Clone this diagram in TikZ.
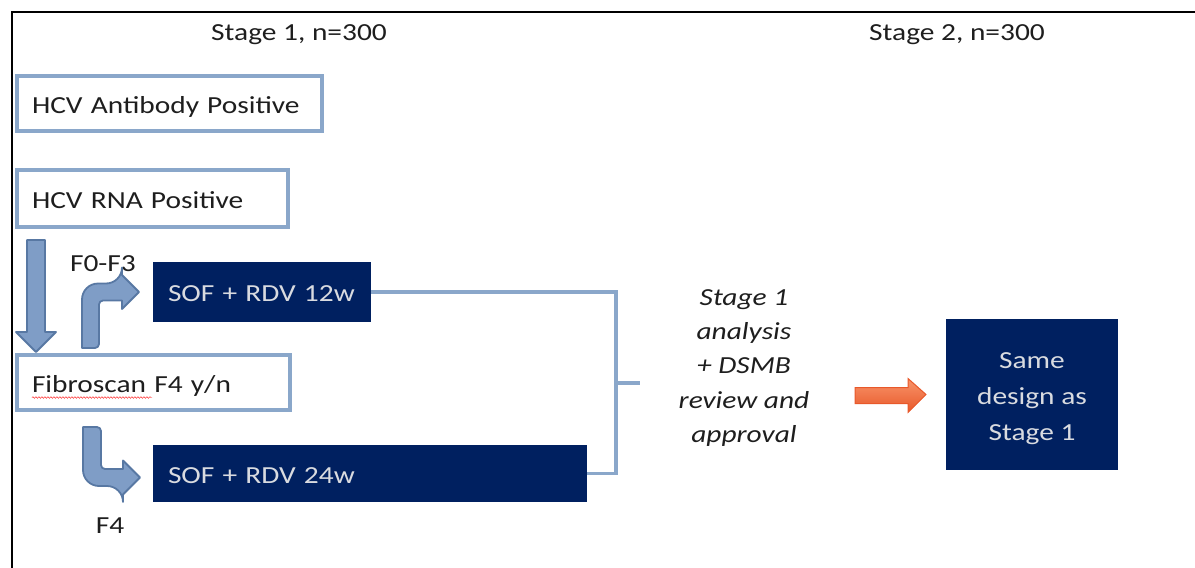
\documentclass[tikz,border=0pt]{standalone}
\usepackage{fontspec}
\setmainfont{Carlito}[FakeStretch=1.2]
\usetikzlibrary{positioning,calc,decorations.pathmorphing}
\definecolor{ink}{HTML}{1E1E1E}
\definecolor{edge}{HTML}{8AA7CA}
\definecolor{navy}{HTML}{002060}
\definecolor{pale}{HTML}{D9DBE0}
\definecolor{afill}{HTML}{7F9DC6}
\definecolor{aline}{HTML}{5878A3}
\definecolor{org}{HTML}{E8582A}
\definecolor{orgl}{HTML}{F8946A}
\tikzset{
  box/.style={draw=edge,line width=3.8pt,fill=white,outer sep=0pt,inner xsep=15pt,align=left,anchor=north west,text=ink,text height=22pt,text depth=3pt},
  dark/.style={fill=navy,outer sep=0pt,inner xsep=15pt,align=left,anchor=north west,text=pale,text height=22pt,text depth=3pt},
  lab/.style={text=ink,align=center},
  link/.style={draw=edge,line width=3.8pt},
  barrow/.style={draw=aline,fill=afill,line width=1.8pt,line join=round},
  oarrow/.style={draw=org,top color=orgl,bottom color=org,line width=1pt},
}
\begin{document}
\begin{tikzpicture}[x=1pt,y=-1pt,font=\fontsize{24.5}{29}\selectfont]
\useasboundingbox (0,0) rectangle (1195,568);
\draw[line width=1.5pt] (12,568) -- (12,12) -- (1195,12);
\node[lab] (st1) at (299,35) {Stage 1, n=300};
\node[lab] (st2) at (957,35) {Stage 2, n=300};
% stage 1 boxes
\node[box,text width=275pt,minimum height=55pt] (ab) at (17,76) {HCV Antibody Positive};
\node[box,text width=241pt,minimum height=57pt] (rna) at (17,170) {HCV RNA Positive};
\node[box,text width=243pt,minimum height=55pt] (fib) at (17,355) {Fibroscan F4 y/n};
\draw[red,decorate,decoration={snake,amplitude=0.8pt,segment length=3pt}] ($(fib.west)+(15,15)$) -- ++(120,0);
\node[dark,text width=188pt,minimum height=60pt] (s12) at (153,262) {SOF + RDV 12w};
\node[dark,text width=404pt,minimum height=57pt] (s24) at (153,445) {SOF + RDV 24w};
\node[lab] (f03) at ($(s12.west)+(-50,-28)$) {F0-F3};
\node[lab] (f4) at ($(s24.west)+(-43,52)$) {F4};
% block arrows
\draw[barrow] ($(rna.south west)+(10,13)$) -- ++(18,0) -- ($(fib.north west)+(28,-23)$) -- ++(11,0)
  -- ($(fib.north west)+(19,-3)$) -- ++(-20,-20) -- ++(11,0) -- cycle;
\draw[barrow] ($(fib.north west)+(65,-7)$) [rounded corners=16pt] |- ($(s12.west)+(-31,-8.5)$) [sharp corners]
  -- ++(0,-8.5) -- ($(s12.west)+(-14,0)$) -- ++(-17,17) -- ++(0,-8.5) [rounded corners=4pt]
  -| ($(fib.north west)+(82,-7)$) [sharp corners] -- cycle;
\draw[barrow] ($(fib.south west)+(66,17)$) [rounded corners=16pt] |- ($(s24.west)+(-30,12.5)$) [sharp corners]
  -- ++(0,8.5) -- ($(s24.west)+(-13,4)$) -- ++(-17,-17) -- ++(0,8.5) [rounded corners=4pt]
  -| ($(fib.south west)+(84,17)$) [sharp corners] -- cycle;
% review
\coordinate (jn) at ($(s12.east)!0.5!(s24.east)$);
\coordinate (jn) at (616,0 |- jn);
\draw[link] (s12.east) -| (jn) |- (s24.east);
\node[lab,font=\fontsize{24.5}{34.2}\selectfont\itshape] (ana) at (744,368) {Stage 1\\analysis\\+ DSMB\\review and\\approval};
\draw[link] (jn) -- ++(24,0);
\node[dark,align=center,minimum width=172pt,minimum height=151pt,inner xsep=8pt,text height=,text depth=,font=\fontsize{24.5}{36}\selectfont] (same) at (946,319) {\rule{0pt}{24pt}Same\\design as\\Stage 1};
\draw[oarrow] ($(same.west)+(-91,-7)$) -- ++(53,0) -- ++(0,-9) -- ($(same.west)+(-20,0)$) -- ++(-18,18) -- ++(0,-9) -- ++(-53,0) -- cycle;
\end{tikzpicture}
\end{document}
